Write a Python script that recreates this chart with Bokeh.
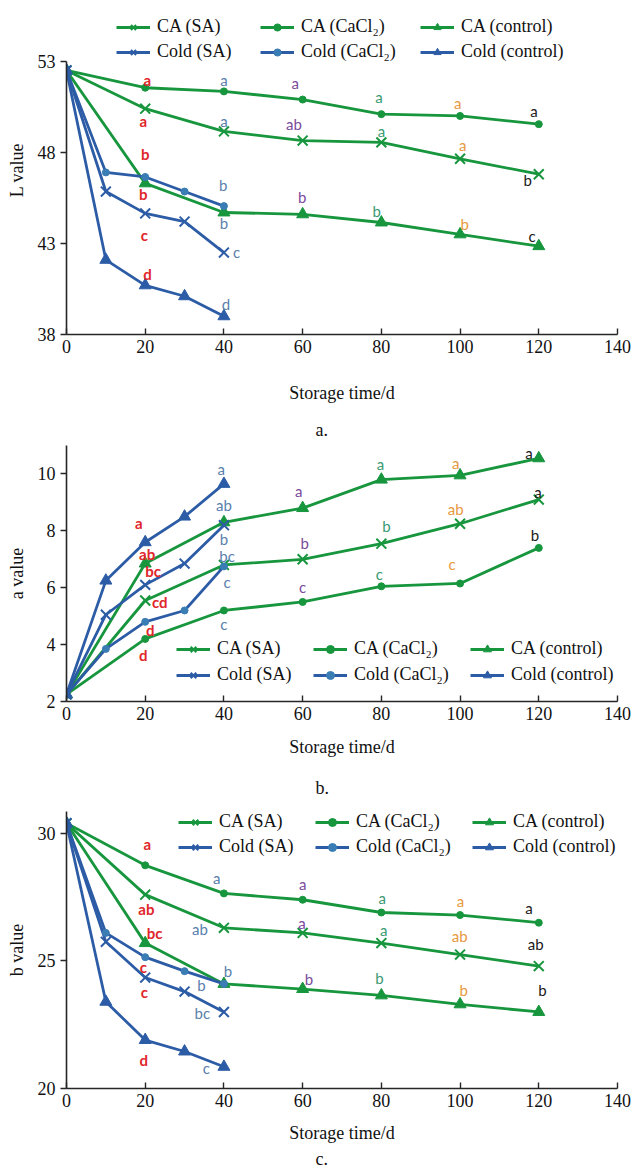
from bokeh.plotting import figure
from bokeh.models import Range1d, Legend, LegendItem, FixedTicker, Title
from bokeh.layouts import column
from bokeh.embed import file_html
from bokeh.resources import INLINE
from bokeh.core.properties import value

# ---------------- data ----------------
days_ca = [0, 20, 40, 60, 80, 100, 120]
days_cold = [0, 10, 20, 30, 40]
x_ticks = [0, 20, 40, 60, 80, 100, 120, 140]

# Panel a: L value
L_ca_sa = [52.5, 50.4, 49.15, 48.65, 48.55, 47.65, 46.8]
L_ca_cacl2 = [52.5, 51.55, 51.35, 50.9, 50.1, 50.0, 49.55]
L_ca_ctrl = [52.5, 46.3, 44.7, 44.6, 44.15, 43.5, 42.85]
L_cold_sa = [52.5, 45.85, 44.65, 44.2, 42.5]
L_cold_cacl2 = [52.5, 46.9, 46.65, 45.85, 45.05]
L_cold_ctrl = [52.5, 42.1, 40.7, 40.1, 39.0]
L_ticks = [38, 43, 48, 53]

# Panel b: a value
a_ca_sa = [2.25, 5.55, 6.8, 7.0, 7.55, 8.25, 9.1]
a_ca_cacl2 = [2.25, 4.2, 5.2, 5.5, 6.05, 6.15, 7.4]
a_ca_ctrl = [2.25, 6.85, 8.3, 8.8, 9.8, 9.95, 10.55]
a_cold_sa = [2.25, 5.05, 6.1, 6.85, 8.2]
a_cold_cacl2 = [2.25, 3.85, 4.8, 5.2, 6.75]
a_cold_ctrl = [2.25, 6.25, 7.6, 8.5, 9.65]
a_ticks = [2, 4, 6, 8, 10]

# Panel c: b value
b_ca_sa = [30.4, 27.6, 26.3, 26.1, 25.7, 25.25, 24.8]
b_ca_cacl2 = [30.4, 28.75, 27.65, 27.4, 26.9, 26.8, 26.5]
b_ca_ctrl = [30.4, 25.7, 24.1, 23.9, 23.65, 23.3, 23.0]
b_cold_sa = [30.4, 25.75, 24.35, 23.8, 23.0]
b_cold_cacl2 = [30.4, 26.1, 25.15, 24.6, 24.1]
b_cold_ctrl = [30.4, 23.4, 21.9, 21.45, 20.85]
b_ticks = [20, 25, 30]

series_labels = ["CA (SA)", "CA (CaCl₂)", "CA (control)",
                 "Cold (SA)", "Cold (CaCl₂)", "Cold (control)"]

# significance letters (x, y, text, colour group)
La_x = [20.5, 19.5, 20, 19.5, 19.8, 20.6, 40, 40, 39.8, 40, 43.2, 40.5,
        58.1, 57.8, 59.9, 79.4, 80, 78.8, 99.4, 100.7, 101.2, 118.8, 117.2, 118.3]
La_y = [52.0, 49.75, 47.9, 45.7, 43.45, 41.3, 51.95, 49.75, 46.2, 44.1, 42.55, 39.7,
        51.8, 49.57, 45.55, 51.03, 49.2, 44.77, 50.7, 48.38, 44.08, 50.3, 46.47, 43.4]
La_t = ["a", "a", "b", "b", "c", "d", "a", "a", "b", "b", "c", "d",
        "a", "ab", "b", "a", "a", "b", "a", "a", "b", "a", "b", "c"]
La_g = ["r"] * 6 + ["bl"] * 6 + ["p"] * 3 + ["t"] * 3 + ["o"] * 3 + ["k"] * 3

Lb_x = [18.4, 20.5, 22.0, 23.7, 21.3, 19.5, 39.3, 40, 40, 40.8, 40.8, 40,
        59, 60.5, 60, 79.8, 81.3, 79.5, 98.9, 98.9, 98, 117.5, 119.8, 119]
Lb_y = [8.28, 7.18, 6.58, 5.49, 4.52, 3.64, 10.17, 8.9, 7.73, 7.11, 6.2, 4.71,
        9.4, 7.58, 6.02, 10.34, 8.18, 6.5, 10.38, 8.76, 6.85, 10.75, 9.38, 7.87]
Lb_t = ["a", "ab", "bc", "cd", "d", "d", "a", "ab", "b", "bc", "c", "c",
        "a", "b", "c", "a", "b", "c", "a", "ab", "c", "a", "a", "b"]
Lb_g = La_g

Lc_x = [20.5, 20.3, 22.4, 19.5, 19.8, 19.6, 38.2, 33.9, 41, 34.3, 34.5, 35.5,
        60, 59.8, 61.6, 80.2, 80.6, 79.5, 100.1, 99.9, 100.9, 117.5, 119.2, 120.9]
Lc_y = [29.59, 27.02, 26.09, 24.77, 23.79, 21.11, 28.24, 26.25, 24.6, 24.07, 22.97, 20.79,
        28.03, 26.49, 24.31, 27.48, 26.23, 24.34, 27.37, 25.96, 23.85, 27.06, 25.66, 23.85]
Lc_t = ["a", "ab", "bc", "c", "c", "d", "a", "ab", "b", "b", "bc", "c",
        "a", "a", "b", "a", "a", "b", "a", "ab", "b", "a", "ab", "b"]
Lc_g = La_g

# ---------------- styles ----------------
GREEN = "#17963e"
BLUE = "#2d5ca6"
BLUE_DOT = "#3a7db5"
LET_COL = {"r": "#e0262b", "bl": "#5a80ad", "p": "#7b4a9c",
           "t": "#3b9a72", "o": "#e8993e", "k": "#1a1a1a"}
SERIF = "Liberation Serif"
AXC = "#262626"
TXT = "#111111"
MARKERS = ["x", "circle", "triangle"]
MSIZES = [14, 7, 12]


def add_series(p, i, xs, ys):
    col = GREEN if i < 3 else BLUE
    mcol = BLUE_DOT if i == 4 else col
    m = MARKERS[i % 3]
    lr = p.line(xs, ys, line_color=col, line_width=2.8)
    if m == "x":
        sr = p.scatter(xs, ys, marker="x", size=MSIZES[0], line_color=mcol, line_width=2)
    else:
        sr = p.scatter(xs, ys, marker=m, size=MSIZES[i % 3], fill_color=mcol,
                       line_color=mcol, line_width=1)
    return LegendItem(label=series_labels[i], renderers=[lr, sr])


def add_legends(p, items, xs, ys, h=20):
    for i, it in enumerate(items):
        lg = Legend(items=[it], location=(xs[i % 3], ys[i // 3]), orientation="horizontal",
                    padding=0, margin=0, spacing=0, label_standoff=7, glyph_width=34,
                    glyph_height=h, label_height=h, label_text_font=SERIF,
                    label_text_font_size="18px", label_text_color=TXT,
                    label_text_baseline="middle", background_fill_alpha=0,
                    border_line_alpha=0)
        p.add_layout(lg)


def caption(p, text, side, standoff, valign):
    t = Title(text=text, align="left", offset=249, standoff=standoff,
              vertical_align=valign, text_font=SERIF, text_font_size="18px",
              text_font_style="normal", text_color=TXT)
    p.add_layout(t, side)


def make_panel(height, top, bottom, ylo, yhi, ybounds, yticks, data, letters, ylab,
               xlab_standoff):
    p = figure(width=632, height=height, output_backend="svg", toolbar_location=None,
               x_range=Range1d(0, 140), y_range=Range1d(ylo, yhi),
               min_border_left=66, min_border_right=15,
               min_border_top=top, min_border_bottom=bottom)
    p.background_fill_color = "white"
    p.border_fill_color = "white"
    p.outline_line_color = None
    p.grid.visible = False

    p.xaxis.ticker = FixedTicker(ticks=x_ticks)
    p.yaxis.ticker = FixedTicker(ticks=yticks)
    p.yaxis.bounds = ybounds
    for ax in (p.xaxis, p.yaxis):
        ax.axis_line_color = AXC
        ax.axis_line_width = 1.6
        ax.major_tick_line_color = AXC
        ax.major_tick_line_width = 1.4
        ax.minor_tick_line_color = None
        ax.major_label_text_font = SERIF
        ax.major_label_text_font_size = "18px"
        ax.major_label_text_color = TXT
        ax.axis_label_text_font = SERIF
        ax.axis_label_text_font_style = "normal"
        ax.axis_label_text_font_size = "18px"
        ax.axis_label_text_color = TXT
    p.xaxis.major_tick_in = 6
    p.xaxis.major_tick_out = 0
    p.xaxis.major_label_standoff = 5
    p.yaxis.major_tick_in = 0
    p.yaxis.major_tick_out = 6
    p.yaxis.major_label_standoff = 5
    p.xaxis.axis_label = "Storage time/d"
    p.xaxis.axis_label_standoff = xlab_standoff
    p.yaxis.axis_label = ylab + " value"
    p.yaxis.axis_label_standoff = 8

    items = [add_series(p, i, xs, ys) for i, (xs, ys) in enumerate(data)]

    lx, ly, lt, lg_ = letters
    for bold in (True, False):
        idx = [k for k in range(len(lx)) if (lg_[k] == "r") == bold]
        p.text([lx[k] for k in idx], [ly[k] for k in idx], text=[lt[k] for k in idx],
               text_color=[LET_COL[lg_[k]] for k in idx],
               text_font=value("Lato"), text_font_size="15px",
               text_font_style="bold" if bold else "normal",
               text_align="center", text_baseline="middle")
    return p, items


# ---- panel a (frame extended upward to hold the legend; axis bounded to 38-53) ----
pa, items_a = make_panel(405, 5, 70, 38, 38 + 330 * 15 / 274, (38, 53), L_ticks,
                         [(days_ca, L_ca_sa), (days_ca, L_ca_cacl2), (days_ca, L_ca_ctrl),
                          (days_cold, L_cold_sa), (days_cold, L_cold_cacl2), (days_cold, L_cold_ctrl)],
                         (La_x, La_y, La_t, La_g), "L", 27)
add_legends(pa, items_a, [50, 194, 354], [297, 272], h=18)

# ---- panel b ----
pb, items_b = make_panel(356, 40, 60, 2, 11, (2, 11), a_ticks,
                         [(days_ca, a_ca_sa), (days_ca, a_ca_cacl2), (days_ca, a_ca_ctrl),
                          (days_cold, a_cold_sa), (days_cold, a_cold_cacl2), (days_cold, a_cold_ctrl)],
                         (Lb_x, Lb_y, Lb_t, Lb_g), "a", 14)
add_legends(pb, items_b, [110, 247, 404], [42, 16])
caption(pb, "a.", "above", 11, "bottom")

# ---- panel c ----
pc, items_c = make_panel(408, 49, 81, 20, 30.86, (20, 30.86), b_ticks,
                         [(days_ca, b_ca_sa), (days_ca, b_ca_cacl2), (days_ca, b_ca_ctrl),
                          (days_cold, b_cold_sa), (days_cold, b_cold_cacl2), (days_cold, b_cold_ctrl)],
                         (Lc_x, Lc_y, Lc_t, Lc_g), "b", 13)
add_legends(pc, items_c, [112, 249, 406], [256, 231])
caption(pc, "b.", "above", 28, "bottom")
caption(pc, "c.", "below", 2, "bottom")

layout = column(pa, pb, pc, spacing=0)
open("out.html", "w").write(file_html(layout, INLINE))
